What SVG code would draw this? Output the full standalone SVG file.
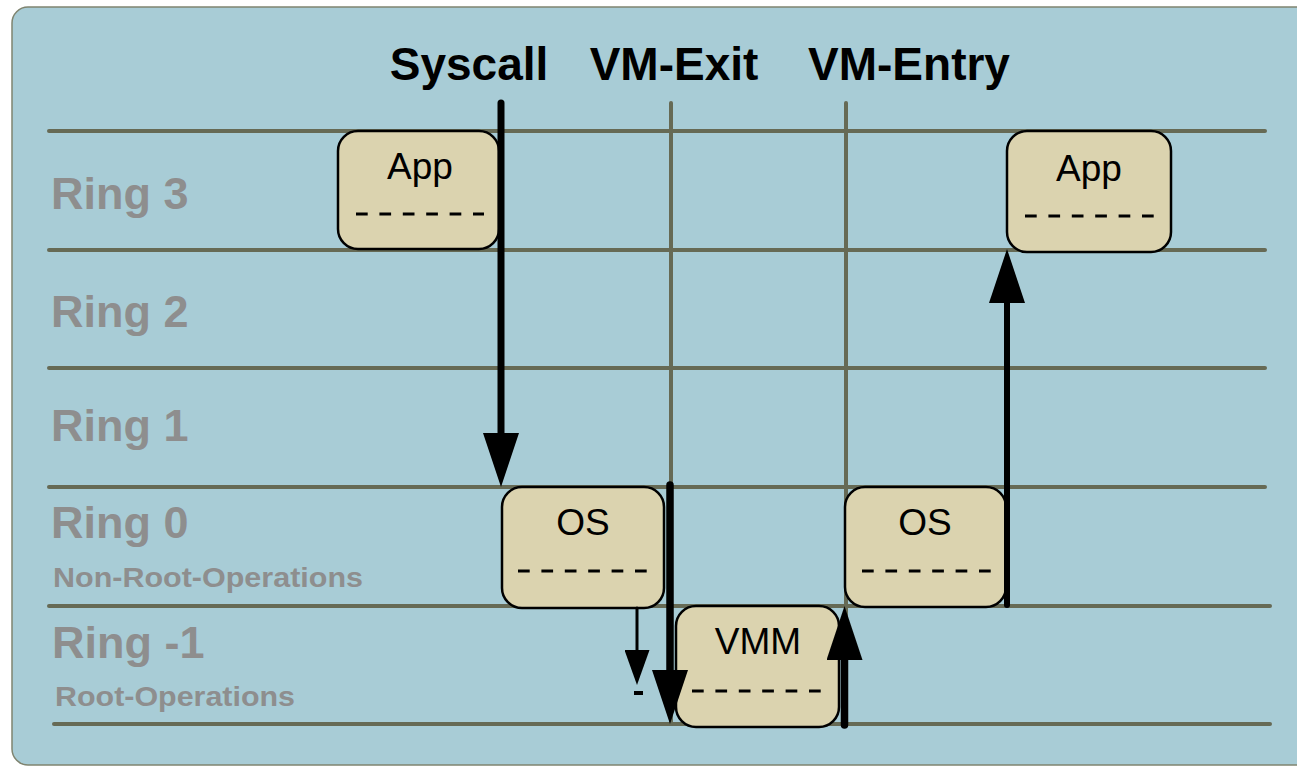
<svg xmlns="http://www.w3.org/2000/svg" width="1297" height="767" viewBox="0 0 1297 767">
  <style>
    .panel { fill: #a8ccd6; stroke: #7f8470; stroke-width: 1.5; }
    .grid { stroke: #666a55; stroke-width: 4; stroke-linecap: round; fill: none; }
    .ring { font-family: "Liberation Sans", Arial, sans-serif; font-weight: bold; fill: #8e8e8e; }
    .title { font-family: "Liberation Sans", Arial, sans-serif; font-weight: bold; font-size: 46px; fill: #000; text-anchor: middle; }
    .box { fill: #dbd3af; stroke: #000; stroke-width: 2.5; }
    .label { font-family: "Liberation Sans", Arial, sans-serif; font-size: 37px; fill: #000; text-anchor: middle; }
    .dash { stroke: #000; stroke-width: 3; stroke-dasharray: 11.7 11.7; }
    .flow { stroke: #000; fill: none; stroke-linecap: round; }
  </style>
  <defs>
    <marker id="head" markerUnits="userSpaceOnUse" markerWidth="54" markerHeight="36" viewBox="0 0 54 36" refX="0" refY="18" orient="auto">
      <path d="M0,0 L54,18 L0,36 z" fill="#000"/>
    </marker>
    <marker id="headSmall" markerUnits="userSpaceOnUse" markerWidth="35" markerHeight="25" viewBox="0 0 35 25" refX="0" refY="12.5" orient="auto">
      <path d="M0,0 L35,12.5 L0,25 z" fill="#000"/>
    </marker>
  </defs>

  <!-- background panel -->
  <rect class="panel" x="12" y="7" width="1310" height="758" rx="16"/>

  <!-- ring boundaries and event columns -->
  <g id="grid">
    <line class="grid" x1="49" y1="131" x2="1265" y2="131"/>
    <line class="grid" x1="49" y1="250" x2="1265" y2="250"/>
    <line class="grid" x1="49" y1="368" x2="1265" y2="368"/>
    <line class="grid" x1="49" y1="487" x2="1265" y2="487"/>
    <line class="grid" x1="49" y1="606" x2="1270" y2="606"/>
    <line class="grid" x1="54" y1="724" x2="1270" y2="724"/>
    <line class="grid" x1="671" y1="103" x2="671" y2="724"/>
    <line class="grid" x1="846" y1="103" x2="846" y2="724"/>
  </g>

  <!-- ring labels -->
  <g id="ring-labels">
    <text class="ring" x="51" y="209" font-size="45">Ring 3</text>
    <text class="ring" x="51" y="327" font-size="45">Ring 2</text>
    <text class="ring" x="51" y="441" font-size="45">Ring 1</text>
    <text class="ring" x="51" y="538" font-size="45">Ring 0</text>
    <text class="ring" x="53" y="587" font-size="28" textLength="310" lengthAdjust="spacingAndGlyphs">Non-Root-Operations</text>
    <text class="ring" x="52" y="658" font-size="45">Ring -1</text>
    <text class="ring" x="55" y="706" font-size="28" textLength="240" lengthAdjust="spacingAndGlyphs">Root-Operations</text>
  </g>

  <!-- event titles -->
  <g id="titles">
    <text class="title" x="469" y="80">Syscall</text>
    <text class="title" x="674" y="80">VM-Exit</text>
    <text class="title" x="909" y="80">VM-Entry</text>
  </g>

  <!-- nodes -->
  <g id="app-guest">
    <rect class="box" x="338" y="131" width="161" height="118" rx="20"/>
    <text class="label" x="420" y="179">App</text>
    <line class="dash" x1="356" y1="214" x2="484" y2="214"/>
  </g>
  <g id="os-syscall">
    <rect class="box" x="502" y="487" width="162" height="121" rx="20"/>
    <text class="label" x="583" y="535">OS</text>
    <line class="dash" x1="518" y1="571" x2="648" y2="571"/>
  </g>
  <g id="vmm">
    <rect class="box" x="676" y="606" width="163" height="121" rx="20"/>
    <text class="label" x="758" y="654">VMM</text>
    <line class="dash" x1="692" y1="691" x2="822" y2="691"/>
  </g>
  <g id="os-resume">
    <rect class="box" x="845" y="487" width="161" height="120" rx="20"/>
    <text class="label" x="925" y="535">OS</text>
    <line class="dash" x1="862" y1="571" x2="992" y2="571"/>
  </g>
  <g id="app-resume">
    <rect class="box" x="1007" y="131" width="164" height="121" rx="20"/>
    <text class="label" x="1089" y="181">App</text>
    <line class="dash" x1="1025" y1="216" x2="1154" y2="216"/>
  </g>

  <!-- transitions -->
  <g id="connectors">
    <line class="flow" x1="501" y1="103" x2="501" y2="433" stroke-width="7" marker-end="url(#head)"/>
    <line class="flow" x1="670" y1="485" x2="670" y2="670" stroke-width="7.5" marker-end="url(#head)"/>
    <line class="flow" x1="844.5" y1="725" x2="844.5" y2="660" stroke-width="7.5" marker-end="url(#head)"/>
    <line class="flow" x1="1007" y1="605" x2="1007" y2="303" stroke-width="6" marker-end="url(#head)"/>
    <line class="flow" x1="637" y1="608" x2="637" y2="650" stroke-width="3" stroke-linecap="butt" marker-end="url(#headSmall)"/>
    <line x1="634" y1="693" x2="643" y2="693" stroke="#000" stroke-width="4"/>
  </g>
</svg>
